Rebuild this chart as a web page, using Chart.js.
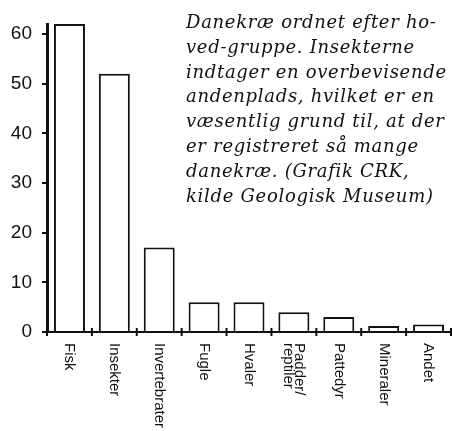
<!DOCTYPE html>
<html>
<head>
<meta charset="utf-8">
<script src="https://cdn.jsdelivr.net/npm/chart.js@4"></script>
<style>
  body { margin: 0; background: #fff; }
  #wrap { position: relative; width: 452px; height: 431px; }
  #note {
    position: absolute; left: 186px; top: 10px;
    font-family: "DejaVu Serif", serif; font-style: italic;
    font-size: 18px; letter-spacing: 0.7px; line-height: 24.8px; color: #111; white-space: pre;
  }
</style>
</head>
<body>
<div id="wrap">
  <canvas id="chart" width="452" height="431"></canvas>
  <div id="note">Danekræ ordnet efter ho-
ved-gruppe. Insekterne
indtager en overbevisende
andenplads, hvilket er en
væsentlig grund til, at der
er registreret så mange
danekræ. (Grafik CRK,
kilde Geologisk Museum)</div>
</div>
<script>
// Danekræ per hovedgruppe
const groups = ['Fisk', 'Insekter', 'Invertebrater', 'Fugle', 'Hvaler', ['Padder/', 'reptiler'], 'Pattedyr', 'Mineraler', 'Andet'];
const counts = [62, 52, 17, 6, 6, 4, 3, 1.2, 1.5];
const yTicks = [0, 10, 20, 30, 40, 50, 60];

const ink = '#111';

// small cross ticks on the x axis, between categories
const xTickMarks = {
  id: 'xTickMarks',
  afterDraw(chart) {
    const xs = chart.scales.x;
    const ctx = chart.ctx;
    const n = groups.length;
    ctx.save();
    ctx.strokeStyle = ink;
    ctx.lineWidth = 2;
    for (let i = 0; i <= n; i++) {
      const x = xs.getPixelForDecimal(i / n);
      ctx.beginPath();
      ctx.moveTo(x, xs.top - 4);
      ctx.lineTo(x, xs.top + 4);
      ctx.stroke();
    }
    ctx.restore();
  }
};

// x labels turned clockwise (reading top to bottom)
const xLabels = {
  id: 'xLabels',
  afterDraw(chart) {
    const xs = chart.scales.x;
    const ctx = chart.ctx;
    ctx.save();
    ctx.fillStyle = ink;
    ctx.font = '15px "Liberation Sans", Arial, sans-serif';
    ctx.textAlign = 'left';
    ctx.textBaseline = 'middle';
    groups.forEach(function(g, i) {
      const lines = Array.isArray(g) ? g : [g];
      const cx = xs.getPixelForValue(i);
      const lh = 11;
      ctx.save();
      ctx.translate(cx, xs.top + 11);
      ctx.rotate(Math.PI / 2);
      lines.forEach(function(t, k) {
        const off = (k - (lines.length - 1) / 2) * lh;
        ctx.fillText(t, 0, off);
      });
      ctx.restore();
    });
    ctx.restore();
  }
};

const ctx = document.getElementById('chart');

new Chart(ctx, {
  type: 'bar',
  data: {
    labels: groups,
    datasets: [{
      data: counts,
      backgroundColor: '#fff',
      borderColor: ink,
      borderWidth: 2,
      barPercentage: 0.69,
      categoryPercentage: 1
    }]
  },
  options: {
    responsive: false,
    animation: false,
    layout: { padding: { top: 24, right: 1, left: 0, bottom: 0 } },
    plugins: {
      legend: { display: false },
      tooltip: { enabled: false }
    },
    scales: {
      x: {
        offset: true,
        grid: { display: false },
        border: { display: true, color: ink, width: 2 },
        ticks: { display: false },
        afterFit: function(s) { s.height = 99; }
      },
      y: {
        min: 0,
        max: 62,
        afterBuildTicks: function(axis) {
          axis.ticks = yTicks.map(function(v) { return { value: v }; });
        },
        grid: { drawOnChartArea: false, tickLength: 5, color: ink, lineWidth: 2 },
        border: { display: true, color: ink, width: 3 },
        ticks: {
          color: ink,
          padding: 10,
          font: { family: '"Liberation Sans", Arial, sans-serif', size: 19 }
        },
        afterFit: function(s) { s.width = 47; }
      }
    }
  },
  plugins: [xTickMarks, xLabels]
});
</script>
</body>
</html>
